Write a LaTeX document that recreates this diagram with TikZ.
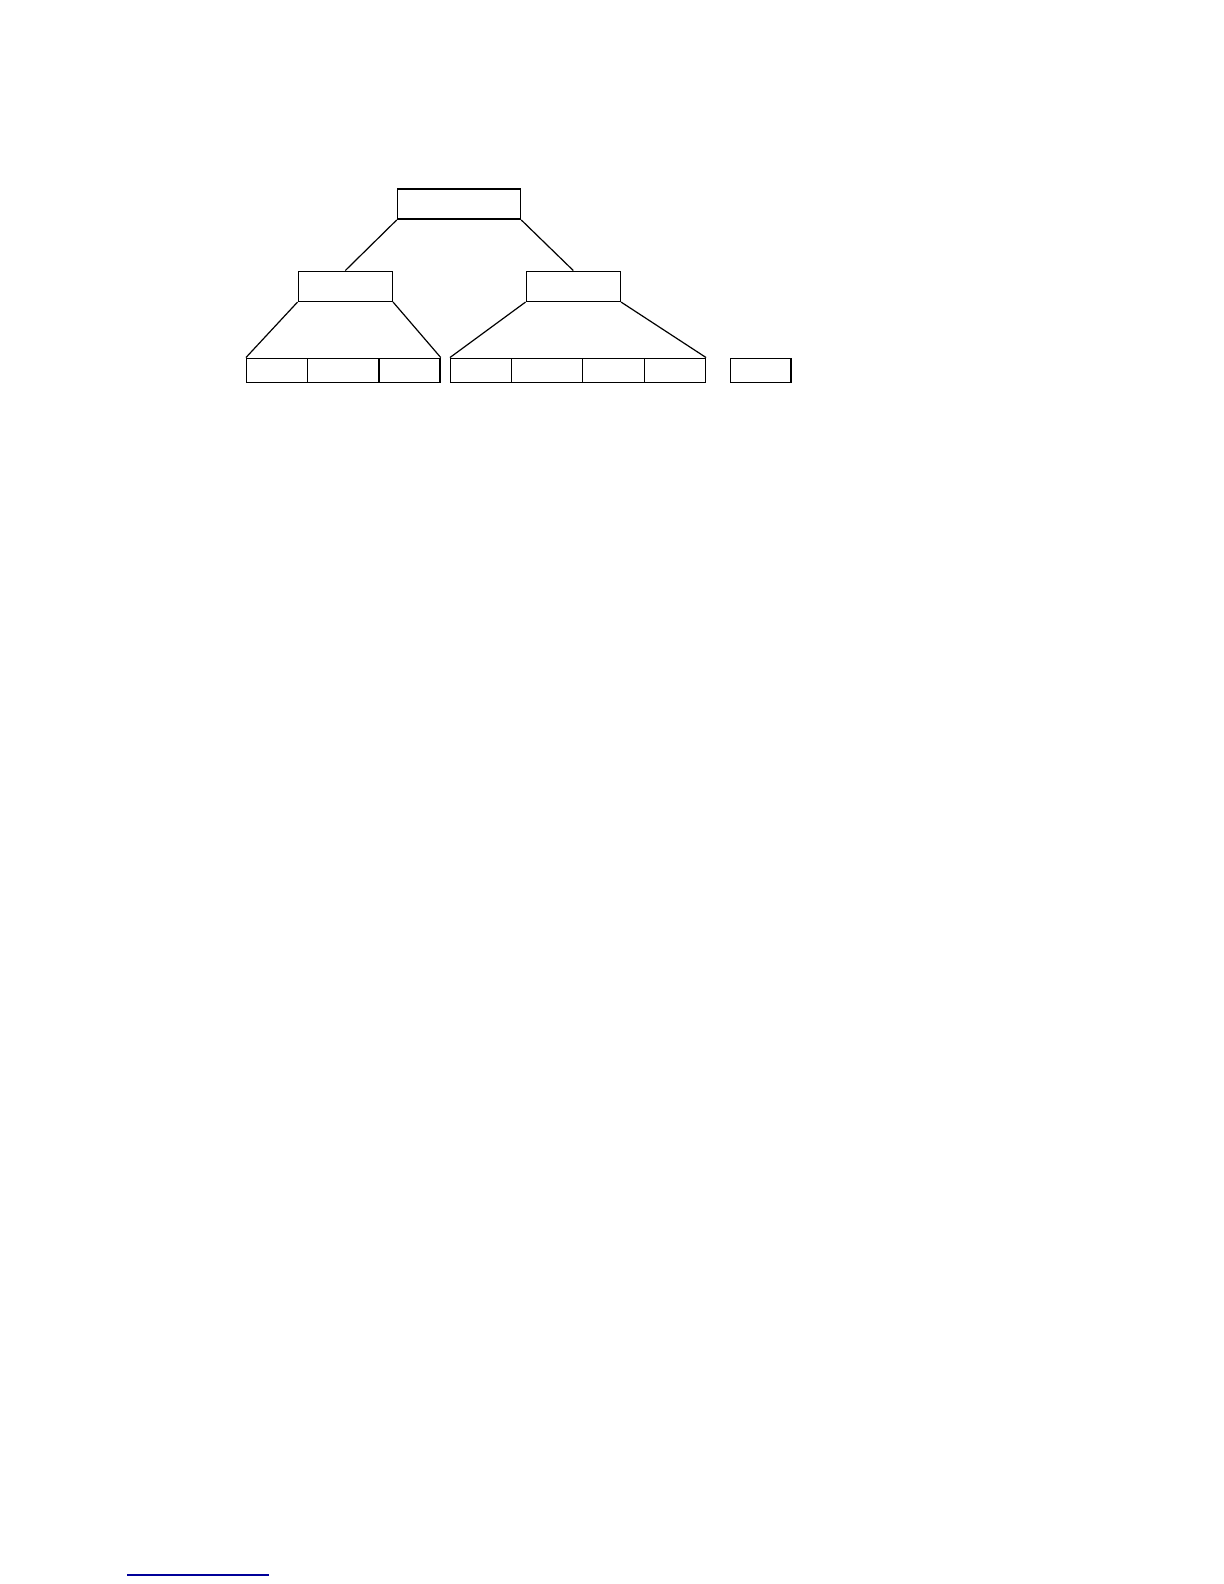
\documentclass[tikz,border=0pt]{standalone}
\usetikzlibrary{positioning}
\tikzset{
	keybox/.style={draw, rectangle, inner sep=0pt, line width=0.75pt, minimum height=15pt},
	leafbox/.style={draw, rectangle, inner sep=0pt, line width=0.75pt, minimum height=12pt},
	edge/.style={line width=0.6pt}
}
\begin{document}
\begin{tikzpicture}[x=0.5pt,y=-0.5pt]
		\useasboundingbox (0,0) rectangle (1224,1584);
		\node[keybox, minimum width=61.5pt] (root) at (459,204.2) {};
		\node[keybox, minimum width=47pt] (inl) at (345.3,286.3) {};
		\node[keybox, minimum width=47pt] (inr) at (573.3,286.3) {};
		\foreach \a/\b/\n in {246.7/307.7/la, 307.7/379/lb, 379/440/lc, 450.7/511.3/ra, 511.3/582.3/rb, 582.3/644.3/rc, 644.3/705.3/rd, 730.3/791/spare}
			\node[leafbox, minimum width={(\b-\a)*0.5pt}] (\n) at ({(\a+\b)/2},370.3) {};
		\draw[edge] (root.south west) -- (inl.north);
		\draw[edge] (root.south east) -- (inr.north);
		\draw[edge] (inl.south west) -- (la.north west);
		\draw[edge] (inl.south east) -- (lc.north east);
		\draw[edge] (inr.south west) -- (ra.north west);
		\draw[edge] (inr.south east) -- (rd.north east);
		\draw[blue!60!black, line width=0.75pt] (127,1575) -- (269,1575);
	\end{tikzpicture}
\end{document}
